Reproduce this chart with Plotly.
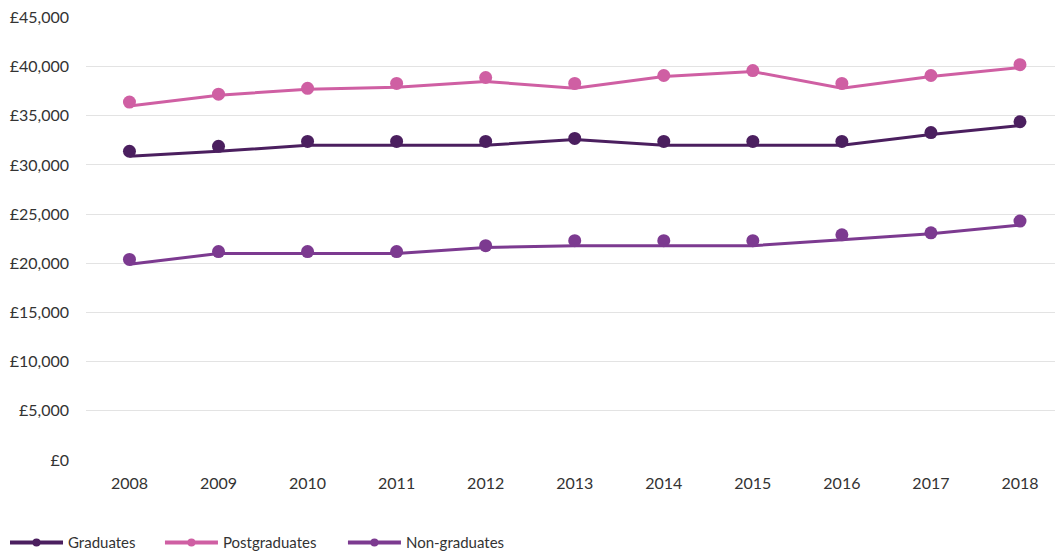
import plotly.graph_objects as go

years = list(range(2008, 2019))

# Line values (as drawn by the connecting lines)
grad_line = [30900, 31400, 32000, 32000, 32000, 32600, 32000, 32000, 32000, 33100, 34000]
post_line = [36000, 37100, 37700, 37900, 38500, 37800, 39000, 39500, 37800, 39000, 39900]
nongrad_line = [19900, 21000, 21000, 21000, 21600, 21800, 21800, 21800, 22400, 23000, 23900]

# Marker values
grad_pts = [31400, 31900, 32400, 32400, 32400, 32700, 32400, 32400, 32400, 33300, 34400]
post_pts = [36400, 37200, 37800, 38300, 38900, 38300, 39100, 39600, 38300, 39100, 40200]
nongrad_pts = [20400, 21200, 21200, 21200, 21800, 22300, 22300, 22300, 22900, 23100, 24300]

names = ["Graduates", "Postgraduates", "Non-graduates"]
colors = ["#4b1f5f", "#cf5fa3", "#7c3a90"]
lines = [grad_line, post_line, nongrad_line]
points = [grad_pts, post_pts, nongrad_pts]
legend_ids = ["legend", "legend2", "legend3"]
legend_x = [-0.0829, 0.0757, 0.263]

fig = go.Figure()
for name, col, ln, pt, lid in zip(names, colors, lines, points, legend_ids):
    fig.add_trace(go.Scatter(x=years, y=ln, mode="lines", line=dict(color=col, width=3),
                             showlegend=False, hoverinfo="skip"))
    fig.add_trace(go.Scatter(x=years, y=pt, mode="markers", marker=dict(color=col, size=13),
                             showlegend=False, name=name))
    fig.add_trace(go.Scatter(x=[None], y=[None], mode="lines+markers", name=name, legend=lid,
                             line=dict(color=col, width=4), marker=dict(color=col, size=8)))

legend_common = dict(orientation="h", xanchor="left", y=-0.187, yanchor="middle",
                     font=dict(family="Lato, sans-serif", size=15, color="#333333"),
                     itemwidth=53, bgcolor="rgba(0,0,0,0)")

fig.update_layout(
    width=1055, height=545,
    margin=dict(l=78, r=0, t=9, b=93, autoexpand=False),
    paper_bgcolor="white", plot_bgcolor="white",
    font=dict(family="Lato, Open Sans, sans-serif", size=16, color="#333333"),
    xaxis=dict(range=[2007.512, 2018.483], tickmode="array", tickvals=years,
               ticktext=[str(y) for y in years], showgrid=False, zeroline=False,
               showline=False, ticks="", ticklabelstandoff=12, automargin=False),
    yaxis=dict(range=[0, 45050], tick0=0, dtick=5000, tickprefix="£",
               tickformat=",d", showgrid=True, gridcolor="#e3e3e3", gridwidth=1,
               zeroline=False, showline=False, ticks="", ticklabelstandoff=16,
               automargin=False, ticklabeloverflow="allow"),
    legend=dict(x=legend_x[0], **legend_common),
    legend2=dict(x=legend_x[1], **legend_common),
    legend3=dict(x=legend_x[2], **legend_common),
    showlegend=True,
)

fig.write_html("out.html")
